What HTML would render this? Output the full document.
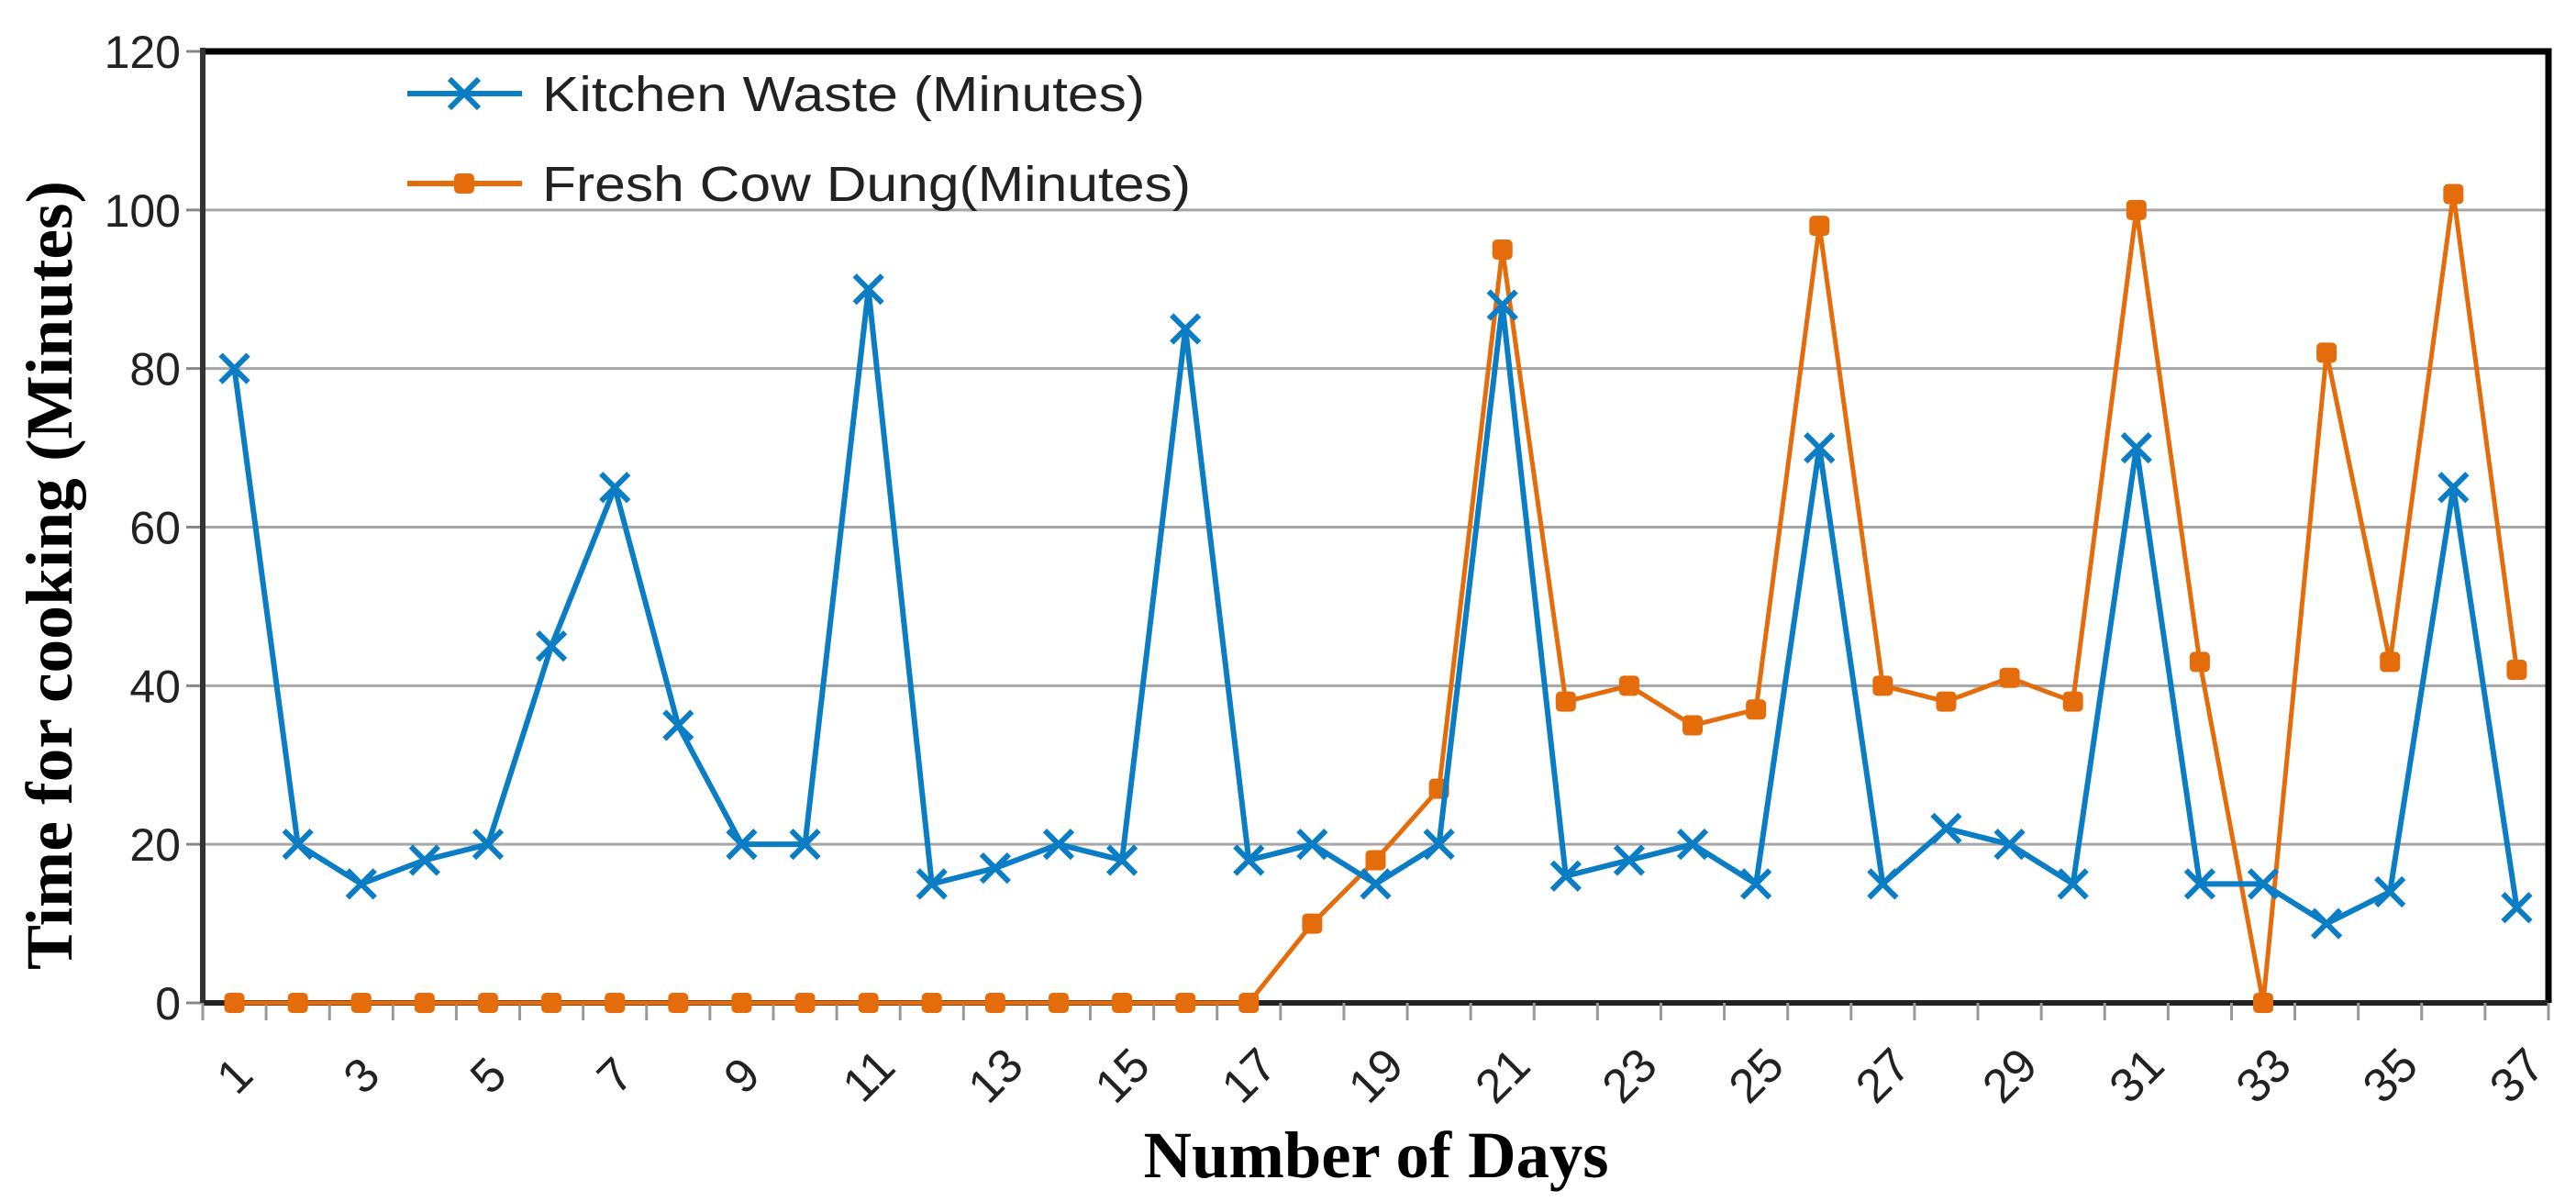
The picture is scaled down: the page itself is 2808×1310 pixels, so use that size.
<!DOCTYPE html>
<html><head><meta charset="utf-8"><style>
html,body{margin:0;padding:0;background:#fff;}
svg{display:block;}
</style></head><body>
<svg id="chart" width="2808" height="1310" xmlns="http://www.w3.org/2000/svg">
<g id="grid"></g>
<g id="axes"></g>
<g id="series"></g>
<text transform="translate(78,627) rotate(-90)" text-anchor="middle" font-family="Liberation Serif, serif" font-weight="bold" font-size="72" textLength="860" lengthAdjust="spacingAndGlyphs">Time  for cooking  (Minutes)</text>
<text x="1500" y="1283" text-anchor="middle" font-family="Liberation Serif, serif" font-weight="bold" font-size="72" textLength="507" lengthAdjust="spacingAndGlyphs">Number  of Days</text>
<g>
 <g>
  <line x1="444" y1="102" x2="569" y2="102" stroke="#0a7dc4" stroke-width="6"/>
  <path d="M490 86 L522 118 M522 86 L490 118" stroke="#0a7dc4" stroke-width="6"/>
  <text x="591" y="121" font-family="Liberation Sans, sans-serif" font-size="54" textLength="657" lengthAdjust="spacingAndGlyphs" fill="#222">Kitchen Waste (Minutes)</text>
 </g>
 <g>
  <line x1="444" y1="200" x2="569" y2="200" stroke="#e46c0a" stroke-width="6"/>
  <rect x="495" y="189" width="22" height="22" rx="5" fill="#e46c0a"/>
  <text x="591" y="219" font-family="Liberation Sans, sans-serif" font-size="54" textLength="707" lengthAdjust="spacingAndGlyphs" fill="#222">Fresh Cow Dung(Minutes)</text>
 </g>
</g>
</svg>
<script>
const days = Array.from({length:37},(_,i)=>i+1);
const kitchenWaste = [80,20,15,18,20,45,65,35,20,20,90,15,17,20,18,85,18,20,15,20,88,16,18,20,15,70,15,22,20,15,70,15,15,10,14,65,12];
const cowDung = [0,0,0,0,0,0,0,0,0,0,0,0,0,0,0,0,0,10,18,27,95,38,40,35,37,98,40,38,41,38,100,43,0,82,43,102,42];
const yTicks = [0,20,40,60,80,100,120];

const NS='http://www.w3.org/2000/svg';
const L=221,R=2778,T=56,B=1093,YMAX=120;
const bw=(R-L)/days.length;
const xs=i=>L+bw*(i+0.5);
const ys=v=>B-(v/YMAX)*(B-T);
function mk(parent,tag,attrs){const e=document.createElementNS(NS,tag);for(const k in attrs)e.setAttribute(k,attrs[k]);parent.appendChild(e);return e;}
const grid=document.getElementById('grid'),axes=document.getElementById('axes'),series=document.getElementById('series');

yTicks.forEach(t=>{
  if(t>0&&t<YMAX){const g=mk(grid,'line',{x1:L,x2:R,y1:ys(t),y2:ys(t),stroke:'#a6a6a6','stroke-width':3});
  
  }
  const tk=mk(axes,'line',{x1:L-18,x2:L,y1:ys(t),y2:ys(t),stroke:'#888','stroke-width':3});
  
  
  const lb=mk(axes,'text',{x:L-24,y:ys(t)+18,'text-anchor':'end','font-family':'Liberation Sans, sans-serif','font-size':50,fill:'#222'});
  lb.textContent=t;
  
  
});
const fr=mk(axes,'path',{d:`M${L} ${T} L${R} ${T} L${R} ${B}`,fill:'none',stroke:'#000','stroke-width':7});


const ya=mk(axes,'line',{x1:L,x2:L,y1:T-4,y2:B,stroke:'#333','stroke-width':6});


const xa=mk(axes,'line',{x1:L,x2:R,y1:B,y2:B,stroke:'#222','stroke-width':6});


for(let i=0;i<=days.length;i++){
  const x=L+bw*i;
  const tk=mk(axes,'line',{x1:x,x2:x,y1:B,y2:B+19,stroke:'#999','stroke-width':3});
  
  
}
days.forEach((d,i)=>{
  if(d%2===0)return;
  const x=xs(i),y=1172;
  const lb=mk(axes,'text',{x:x,y:y+18,'text-anchor':'middle','font-family':'Liberation Sans, sans-serif','font-size':52,fill:'#222',transform:`rotate(-45 ${x} ${y})`});
  lb.textContent=d;
  
  
});

const cdPts=cowDung.map((v,i)=>xs(i)+','+ys(v)).join(' ');
const cdl=mk(series,'polyline',{points:cdPts,fill:'none',stroke:'#e46c0a','stroke-width':5,'stroke-linejoin':'round'});


cowDung.forEach((v,i)=>{
  const m=mk(series,'rect',{x:xs(i)-11,y:ys(v)-11,width:22,height:22,rx:5,fill:'#e46c0a'});
  
  
});
const kwPts=kitchenWaste.map((v,i)=>xs(i)+','+ys(v)).join(' ');
const kwl=mk(series,'polyline',{points:kwPts,fill:'none',stroke:'#0a7dc4','stroke-width':6,'stroke-linejoin':'round'});


kitchenWaste.forEach((v,i)=>{
  const x=xs(i),y=ys(v),s=15;
  const m=mk(series,'path',{d:`M${x-s} ${y-s} L${x+s} ${y+s} M${x+s} ${y-s} L${x-s} ${y+s}`,stroke:'#0a7dc4','stroke-width':6});
  
  
});
</script>
</body></html>
